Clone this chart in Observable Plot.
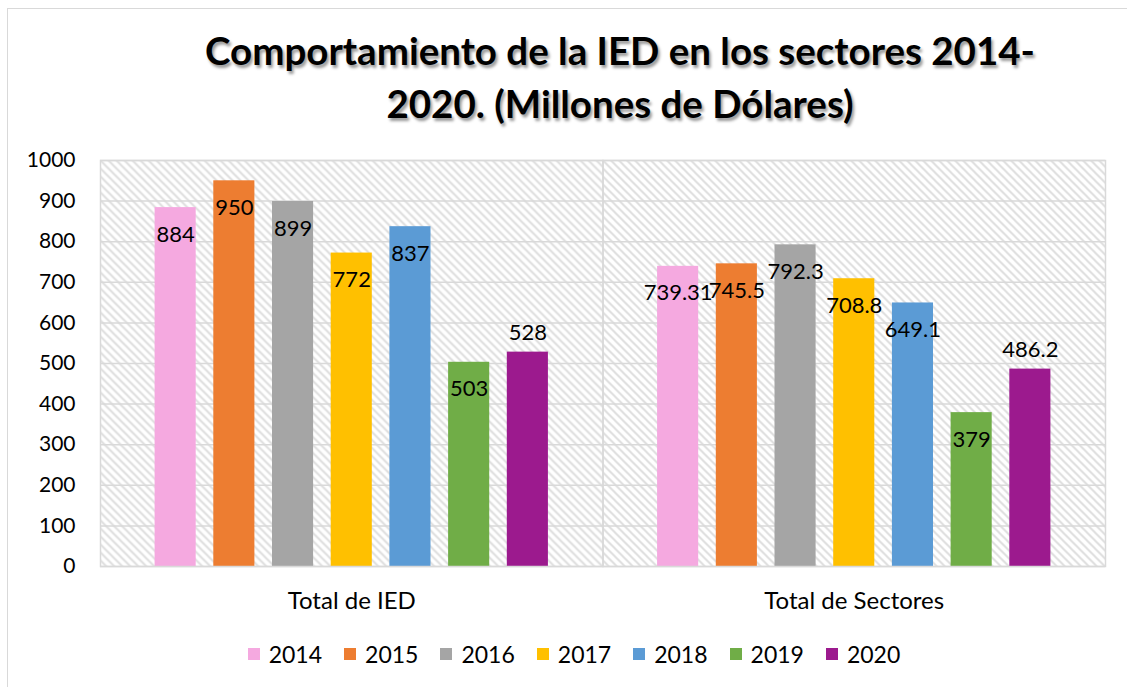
<!DOCTYPE html>
<html><head><meta charset="utf-8">
<script src="https://cdn.jsdelivr.net/npm/d3@7"></script>
<script src="https://cdn.jsdelivr.net/npm/@observablehq/plot@0.6"></script>
<style>
body{margin:0;background:#fff;font-family:Lato,"Open Sans",sans-serif;}
#wrap{position:relative;width:1127px;height:687px;overflow:hidden;background:#fff;}
#border{position:absolute;left:7px;top:8px;width:1300px;height:900px;border:1.5px solid #d9d9d9;}
#title{position:absolute;top:24px;left:0;width:1240px;text-align:center;font-weight:bold;font-size:38.5px;line-height:53px;color:#000;text-shadow:2px 3px 3px rgba(0,0,0,0.4);}
#chart{position:absolute;left:0;top:140px;}
#legend{position:absolute;top:640px;left:0;width:1148px;display:flex;justify-content:center;font-size:23px;}
.item{display:flex;align-items:center;margin:0 11px;}
.sw{width:12px;height:12px;margin-right:9px;}
</style>
</head><body>
<div id="wrap">
<div id="border"></div>
<div id="title">Comportamiento de la IED en los sectores 2014-<br>2020. (Millones de Dólares)</div>
<div id="chart"></div>
<div id="legend"></div>
</div>
<script>
const categories = ["Total de IED", "Total de Sectores"];
const years = ["2014", "2015", "2016", "2017", "2018", "2019", "2020"];
const totalIED = [884, 950, 899, 772, 837, 503, 528];
const totalSectores = [739.31, 745.5, 792.3, 708.8, 649.1, 379, 486.2];
const colors = ["#F5A9E0", "#ED7D31", "#A5A5A5", "#FFC000", "#5B9BD5", "#70AD47", "#9C1A8E"];
const yTicks = [0, 100, 200, 300, 400, 500, 600, 700, 800, 900, 1000];

const series = [totalIED, totalSectores];
const data = [];
categories.forEach((c, i) => years.forEach((y, j) => data.push({cat: c, year: y, value: series[i][j]})));

const svg = Plot.plot({
  width: 1127,
  height: 480,
  marginTop: 20,
  marginBottom: 54,
  marginLeft: 100,
  marginRight: 22,
  style: {fontFamily: "Lato, 'Open Sans', sans-serif", fontSize: "21px", color: "#000", background: "transparent"},
  fx: {domain: categories, padding: 0, round: false, label: null},
  x: {domain: years, paddingInner: 0.3, paddingOuter: 0.93, round: false, axis: null},
  y: {domain: [0, 1000], label: null},
  color: {domain: years, range: colors},
  marks: [
    Plot.frame({fill: "url(#hatch)", stroke: null}),
    Plot.gridY(yTicks, {stroke: "#d9d9d9", strokeOpacity: 1, strokeWidth: 1.5}),
    Plot.barY(data, {fx: "cat", x: "year", y: "value", fill: "year"}),
    Plot.frame({stroke: "#d9d9d9", strokeWidth: 1.5}),
    Plot.axisY({ticks: yTicks, tickSize: 0, tickPadding: 25, fontSize: 21, tickFormat: d => String(d), label: null}),
    Plot.axisFx({anchor: "bottom", tickSize: 0, tickPadding: 25, fontSize: 24, label: null}),
    Plot.text(data.filter(d => d.year !== "2020"), {fx: "cat", x: "year", y: "value", text: d => String(d.value), dy: 27, fontSize: 22, fill: "#000"}),
    Plot.text(data.filter(d => d.year === "2020"), {fx: "cat", x: "year", y: "value", text: d => String(d.value), dy: -19, fontSize: 22, fill: "#000"})
  ]
});

const ns = "http://www.w3.org/2000/svg";
const defs = document.createElementNS(ns, "defs");
defs.innerHTML = '<pattern id="hatch" patternUnits="userSpaceOnUse" width="8" height="8"><rect width="8" height="8" fill="#fff"/><path d="M-2,-2 L10,10 M-2,6 L2,10 M6,-2 L10,2" stroke="#dedede" stroke-width="2"/></pattern>';
svg.insertBefore(defs, svg.firstChild);
document.getElementById("chart").appendChild(svg);

const legend = document.getElementById("legend");
years.forEach((y, i) => {
  const it = document.createElement("div");
  it.className = "item";
  it.innerHTML = `<div class="sw" style="background:${colors[i]}"></div><span>${y}</span>`;
  legend.appendChild(it);
});
</script>
</body></html>
